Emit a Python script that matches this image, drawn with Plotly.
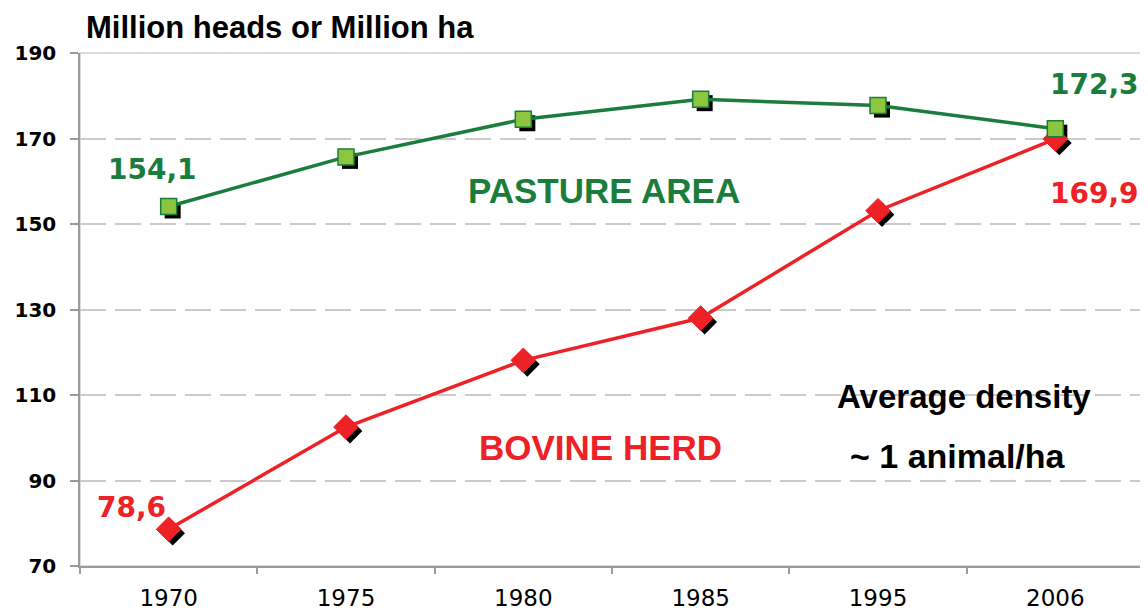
import plotly.graph_objects as go

years = ["1970", "1975", "1980", "1985", "1995", "2006"]
pasture = [154.1, 165.7, 174.5, 179.2, 177.7, 172.3]
bovine = [78.6, 102.5, 118.1, 128.0, 153.1, 169.9]
y_ticks = [70, 90, 110, 130, 150, 170, 190]

OFF = 8  # browser default body margin
W, H = 1148 - OFF, 612 - OFF
ML, MR, MT, MB = 72, 0, 45, 42
PW, PH = W - ML - MR, H - MT - MB
SH = 4  # shadow offset px

GREEN = "#1B7D3C"
GREEN_FILL = "#8CC63E"
RED = "#EE2127"

def px(xp):  # reference-image pixel -> paper x
    return (xp - OFF - ML) / PW

def py(yp):  # reference-image pixel -> paper y
    return (H - MB - (yp - OFF)) / PH

def fmt(v):
    return f"{v:.1f}".replace(".", ",")

first, last = 0, len(years) - 1

fig = go.Figure()

# marker shadows (hidden subplot, shifted a few px right/down)
fig.add_trace(go.Scatter(x=years, y=bovine, mode="markers", xaxis="x", yaxis="y",
                         marker=dict(symbol="diamond", size=19, color="black"),
                         hoverinfo="skip", showlegend=False))
fig.add_trace(go.Scatter(x=years, y=pasture, mode="markers", xaxis="x", yaxis="y",
                         marker=dict(symbol="square", size=16, color="black"),
                         hoverinfo="skip", showlegend=False))
# main series
fig.add_trace(go.Scatter(x=years, y=bovine, mode="lines+markers", xaxis="x2", yaxis="y2",
                         line=dict(color=RED, width=3.5),
                         marker=dict(symbol="diamond", size=19, color=RED,
                                     line=dict(color=RED, width=1)),
                         name="BOVINE HERD", showlegend=False))
fig.add_trace(go.Scatter(x=years, y=pasture, mode="lines+markers", xaxis="x2", yaxis="y2",
                         line=dict(color=GREEN, width=3.5),
                         marker=dict(symbol="square", size=16, color=GREEN_FILL,
                                     line=dict(color=GREEN, width=1.5)),
                         name="PASTURE AREA", showlegend=False))

label_font = dict(family="DejaVu Sans", size=28, weight=700)
common = dict(showarrow=False, xanchor="center", yanchor="middle")
annotations = [
    dict(x=first, y=pasture[first], xref="x2", yref="y2", text=fmt(pasture[first]),
         xshift=-16, yshift=37, font=dict(label_font, color=GREEN), **common),
    dict(x=last, y=pasture[last], xref="x2", yref="y2", text=fmt(pasture[last]),
         xshift=39, yshift=44, font=dict(label_font, color=GREEN), **common),
    dict(x=first, y=bovine[first], xref="x2", yref="y2", text=fmt(bovine[first]),
         xshift=-37, yshift=22, font=dict(label_font, color=RED), **common),
    dict(x=last, y=bovine[last], xref="x2", yref="y2", text=fmt(bovine[last]),
         xshift=39, yshift=-55, font=dict(label_font, color=RED), **common),
    dict(x=px(604), y=py(191), xref="paper", yref="paper", text="PASTURE AREA",
         font=dict(family="Liberation Sans", size=35, weight=700, color=GREEN), **common),
    dict(x=px(600), y=py(447), xref="paper", yref="paper", text="BOVINE HERD",
         font=dict(family="Liberation Sans", size=35, weight=700, color=RED), **common),
    dict(x=px(964), y=py(396), xref="paper", yref="paper", text="Average density",
         font=dict(family="Liberation Sans", size=33, weight=700, color="black"), **common),
    dict(x=px(958), y=py(456), xref="paper", yref="paper", text="~ 1 animal/ha",
         font=dict(family="Liberation Sans", size=34, weight=700, color="black"), **common),
    dict(x=px(84), y=py(28), xref="paper", yref="paper", text="Million heads or Million ha",
         showarrow=False, xanchor="left", yanchor="middle",
         font=dict(family="Liberation Sans", size=31, weight=700, color="black")),
]

fig.update_layout(
    width=W, height=H,
    margin=dict(l=ML, r=MR, t=MT, b=MB),
    paper_bgcolor="white", plot_bgcolor="rgba(0,0,0,0)",
    showlegend=False,
    annotations=annotations,
    xaxis=dict(type="category", categoryorder="array", categoryarray=years,
               range=[-0.5, 5.5], domain=[SH / PW, 1], anchor="y",
               visible=False, showgrid=False, zeroline=False, fixedrange=True),
    yaxis=dict(range=[70, 190], domain=[0, 1 - SH / PH], anchor="x",
               visible=False, showgrid=False, zeroline=False, fixedrange=True),
    xaxis2=dict(type="category", categoryorder="array", categoryarray=years,
                range=[-0.5, 5.5], domain=[0, 1 - SH / PW], anchor="y2",
                showgrid=False, zeroline=False,
                showline=True, linecolor="#9a9a9a", linewidth=1.5,
                ticks="outside", tickson="boundaries", ticklen=6, tickcolor="#9a9a9a",
                tickwidth=1.5, ticklabelstandoff=11,
                tickfont=dict(family="DejaVu Sans", size=23, color="black")),
    yaxis2=dict(range=[70, 190], domain=[SH / PH, 1], anchor="x2",
                tickvals=y_ticks, ticktext=[str(v) for v in y_ticks],
                showgrid=True, gridcolor="#cacaca", gridwidth=2, griddash="26px,9px",
                zeroline=False,
                showline=True, linecolor="#9a9a9a", linewidth=1.5,
                ticks="outside", ticklen=8, tickcolor="#9a9a9a", tickwidth=1.5,
                ticklabelstandoff=10,
                tickfont=dict(family="DejaVu Sans", size=20, weight=700, color="black")),
    shapes=[dict(type="rect", xref="paper", yref="paper",
                 x0=px(80), x1=px(1145), y0=py(566), y1=py(53),
                 line=dict(color="#cfcfcf", width=1.5), layer="below")],
)

fig.write_html("out.html")
